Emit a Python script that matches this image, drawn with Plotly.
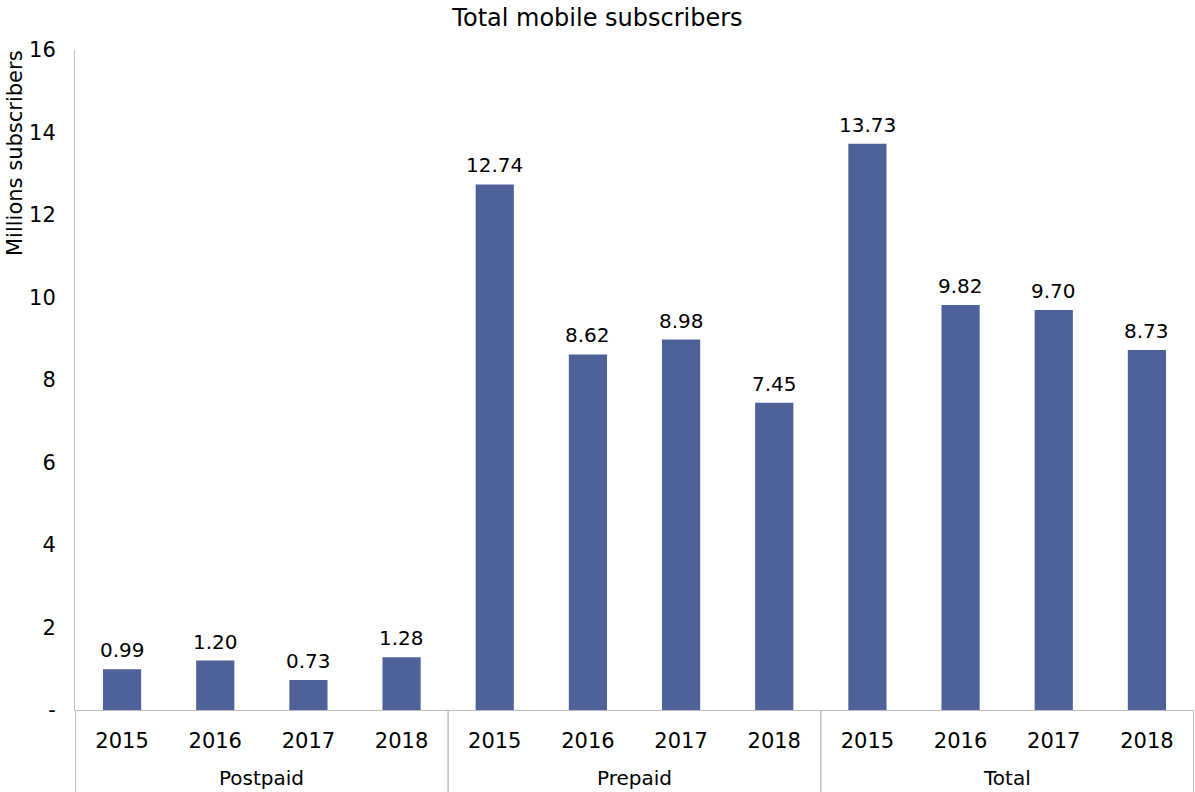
import plotly.graph_objects as go

groups = ["Postpaid"] * 4 + ["Prepaid"] * 4 + ["Total"] * 4
years = ["2015", "2016", "2017", "2018"] * 3
values = [0.99, 1.20, 0.73, 1.28, 12.74, 8.62, 8.98, 7.45, 13.73, 9.82, 9.70, 8.73]
y_tickvals = [0, 2, 4, 6, 8, 10, 12, 14, 16]
y_ticktext = ["-", "2", "4", "6", "8", "10", "12", "14", "16"]

FONT = "DejaVu Sans, Verdana, sans-serif"
GRAY = "#BFBFBF"
H, MT, MB = 792, 50, 82
plot_h = H - MT - MB

cats = [f"{g} {y}" for g, y in zip(groups, years)]

fig = go.Figure(
    go.Bar(
        x=cats,
        y=values,
        marker=dict(color="#4F6199", line=dict(width=0)),
        hoverinfo="x+y",
    )
)

# data labels
for c, v in zip(cats, values):
    fig.add_annotation(
        x=c, y=v, text=f"{v:.2f}", showarrow=False, yanchor="bottom", yshift=5,
        font=dict(size=20, family=FONT, color="#000000"),
    )

# group labels and dividers
uniq = []
for g in groups:
    if g not in uniq:
        uniq.append(g)
bottom = -(MB) / plot_h
for g in uniq:
    idx = [i for i, gg in enumerate(groups) if gg == g]
    fig.add_annotation(
        x=(idx[0] + idx[-1]) / 2, y=0, xref="x", yref="paper",
        yanchor="middle", yshift=-68, text=g, showarrow=False,
        font=dict(size=20, family=FONT, color="#000000"),
    )
    for b in (idx[0] - 0.5, idx[-1] + 0.5):
        fig.add_shape(
            type="line", xref="x", yref="paper", x0=b, x1=b, y0=0, y1=bottom,
            line=dict(color=GRAY, width=1),
        )

fig.update_layout(
    width=1195,
    height=H,
    margin=dict(l=75, r=1, t=MT, b=MB),
    paper_bgcolor="white",
    plot_bgcolor="white",
    bargap=0.59,
    showlegend=False,
    font=dict(family=FONT, color="#000000"),
    title=dict(
        text="Total mobile subscribers",
        x=0.5,
        xanchor="center",
        y=0.978,
        yanchor="middle",
        font=dict(size=24, family=FONT, color="#000000"),
    ),
)

fig.add_annotation(
    text="Millions subscribers", xref="paper", yref="paper", x=0, y=1,
    xanchor="center", yanchor="top", xshift=-60, yshift=2, textangle=-90,
    showarrow=False, font=dict(size=21, family=FONT, color="#000000"),
)

fig.update_xaxes(
    type="category",
    tickvals=cats,
    ticktext=years,
    showline=True,
    linecolor=GRAY,
    linewidth=1,
    showgrid=False,
    ticks="",
    ticklabelstandoff=12,
    tickfont=dict(size=21, family=FONT, color="#000000"),
)

fig.update_yaxes(
    range=[0, 16],
    tickvals=y_tickvals,
    ticktext=y_ticktext,
    showline=True,
    linecolor=GRAY,
    linewidth=1,
    showgrid=False,
    zeroline=False,
    ticks="",
    ticklabelstandoff=14,
    tickfont=dict(size=21, family=FONT, color="#000000"),
)

fig.write_html("out.html")
